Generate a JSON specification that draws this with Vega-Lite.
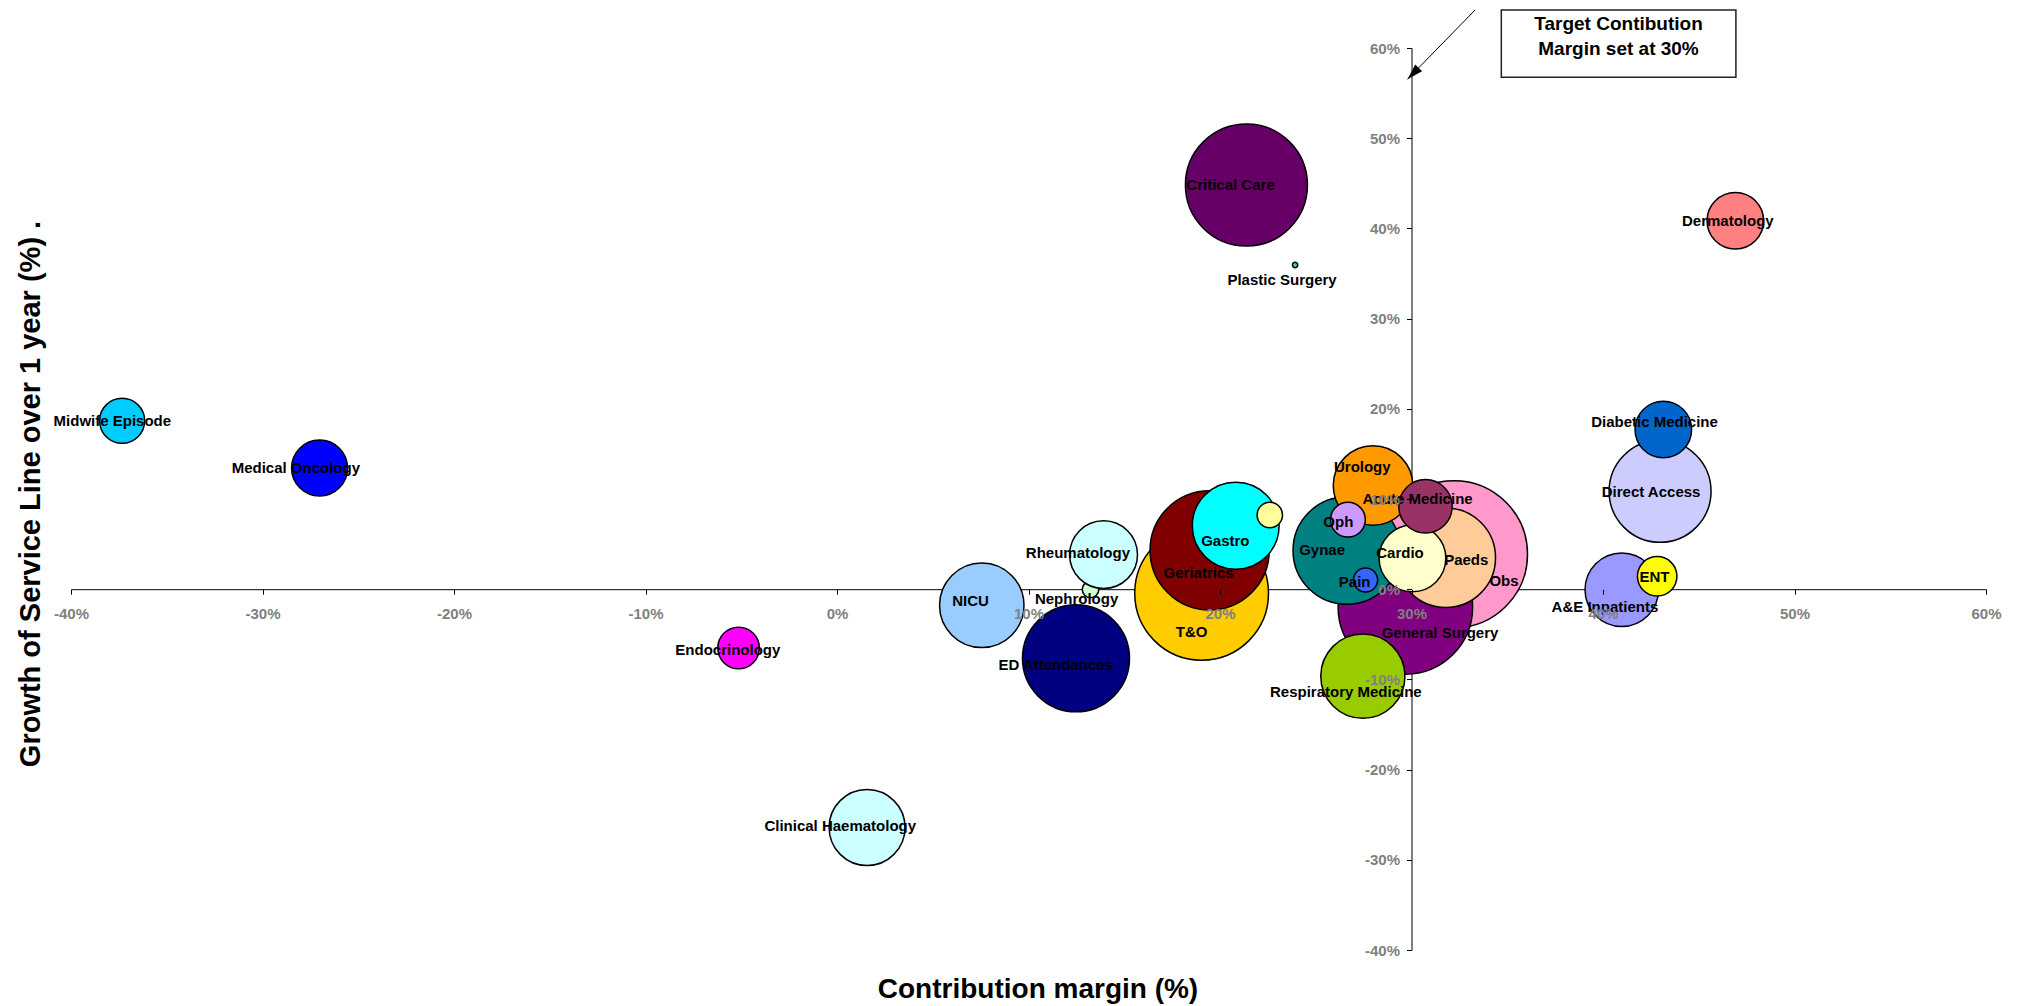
{
  "$schema": "https://vega.github.io/schema/vega-lite/v6.json",
  "width": 1915,
  "height": 902,
  "autosize": {"type": "none"},
  "padding": {"left": 71, "top": 48, "right": 40, "bottom": 56},
  "background": "white",
  "config": {"view": {"stroke": null}, "font": "Liberation Sans"},
  "datasets": {
    "services": [
      {"service": "Obs", "label": "Obs", "margin": 32.22, "growth": 3.88, "activity": 1000, "lx": 34.83, "ly": 0.91},
      {"service": "General Surgery", "label": "General Surgery", "margin": 29.68, "growth": -1.97, "activity": 837, "lx": 31.49, "ly": -4.82},
      {"service": "T&O", "label": "T&O", "margin": 19.04, "growth": -0.46, "activity": 828, "lx": 18.52, "ly": -4.78},
      {"service": "Critical Care", "label": "Critical Care", "margin": 21.38, "growth": 44.81, "activity": 689, "lx": 20.55, "ly": 44.81},
      {"service": "Geriatrics", "label": "Geriatrics", "margin": 19.46, "growth": 4.31, "activity": 658, "lx": 18.88, "ly": 1.76},
      {"service": "Gynae", "label": "Gynae", "margin": 26.62, "growth": 4.29, "activity": 535, "lx": 25.33, "ly": 4.35},
      {"service": "ED Attendances", "label": "ED Attendances", "margin": 12.48, "growth": -7.66, "activity": 530, "lx": 11.42, "ly": -8.4},
      {"service": "Direct Access", "label": "Direct Access", "margin": 42.98, "growth": 10.85, "activity": 481, "lx": 42.51, "ly": 10.74},
      {"service": "Paeds", "label": "Paeds", "margin": 31.79, "growth": 3.49, "activity": 458, "lx": 32.86, "ly": 3.24},
      {"service": "Gastro", "label": "Gastro", "margin": 20.82, "growth": 7.03, "activity": 349, "lx": 20.28, "ly": 5.38},
      {"service": "NICU", "label": "NICU", "margin": 7.56, "growth": -1.79, "activity": 330, "lx": 6.97, "ly": -1.31},
      {"service": "Respiratory Medicine", "label": "Respiratory Medicine", "margin": 27.46, "growth": -9.64, "activity": 328, "lx": 26.57, "ly": -11.36},
      {"service": "Urology", "label": "Urology", "margin": 27.99, "growth": 11.5, "activity": 292, "lx": 27.43, "ly": 13.51},
      {"service": "Clinical Haematology", "label": "Clinical Haematology", "margin": 1.57, "growth": -26.42, "activity": 267, "lx": 0.17, "ly": -26.25},
      {"service": "A&E Inpatients", "label": "A&E Inpatients", "margin": 40.98, "growth": -0.06, "activity": 250, "lx": 40.1, "ly": -1.94},
      {"service": "Nephrology", "label": "Nephrology", "margin": 13.24, "growth": -0.03, "activity": 12.6, "lx": 12.51, "ly": -1.09},
      {"service": "Rheumatology", "label": "Rheumatology", "margin": 13.92, "growth": 3.83, "activity": 213, "lx": 12.58, "ly": 3.98},
      {"service": "Cardio", "label": "Cardio", "margin": 30.05, "growth": 3.42, "activity": 206, "lx": 29.4, "ly": 4.05},
      {"service": "Diabetic Medicine", "label": "Diabetic Medicine", "margin": 43.15, "growth": 17.71, "activity": 148, "lx": 42.69, "ly": 18.5},
      {"service": "Dermatology", "label": "Dermatology", "margin": 46.91, "growth": 40.84, "activity": 148, "lx": 46.52, "ly": 40.86},
      {"service": "Medical Oncology", "label": "Medical Oncology", "margin": -27.02, "growth": 13.44, "activity": 145, "lx": -28.26, "ly": 13.44},
      {"service": "Acute Medicine", "label": "Acute Medicine", "margin": 30.73, "growth": 9.19, "activity": 132, "lx": 30.32, "ly": 10.03},
      {"service": "Midwife Episode", "label": "Midwife Episode", "margin": -37.33, "growth": 18.67, "activity": 94, "lx": -37.84, "ly": 18.68},
      {"service": "Endocrinology", "label": "Endocrinology", "margin": -5.14, "growth": -6.52, "activity": 80, "lx": -5.7, "ly": -6.74},
      {"service": "ENT", "label": "ENT", "margin": 42.83, "growth": 1.43, "activity": 72, "lx": 42.69, "ly": 1.39},
      {"service": "Oph", "label": "Oph", "margin": 26.68, "growth": 7.71, "activity": 56, "lx": 26.18, "ly": 7.48},
      {"service": "Unlabelled", "label": "", "margin": 22.6, "growth": 8.23, "activity": 30, "lx": 22.6, "ly": 8.23},
      {"service": "Pain", "label": "Pain", "margin": 27.6, "growth": 1.02, "activity": 27, "lx": 27.03, "ly": 0.76},
      {"service": "Plastic Surgery", "label": "Plastic Surgery", "margin": 23.92, "growth": 35.94, "activity": 1.3, "lx": 23.24, "ly": 34.28}
    ],
    "box": [{"x1": 34.69, "x2": 46.94, "y1": 64.21, "y2": 56.75}],
    "boxText": [
      {"t": "Target Contibution", "x": 40.81, "y": 62.66},
      {"t": "Margin set at 30%", "x": 40.81, "y": 59.89}
    ],
    "arrow": [{"x1": 33.32, "y1": 64.21, "x2": 29.79, "y2": 56.53}]
  },
  "layer": [
    {
      "data": {"name": "services"},
      "mark": {"type": "point", "filled": true, "opacity": 1, "stroke": "black", "strokeWidth": 1.5, "shape": "circle"},
      "encoding": {
        "x": {
          "field": "margin", "type": "quantitative",
          "scale": {"domain": [-40, 60], "nice": false, "zero": false},
          "axis": {"orient": "bottom", "offset": -360.8, "domain": true, "domainColor": "black", "domainWidth": 1, "ticks": false, "labels": false, "grid": false, "title": null, "zindex": 0}
        },
        "y": {
          "field": "growth", "type": "quantitative",
          "scale": {"domain": [-40, 60], "nice": false, "zero": false},
          "axis": {"orient": "left", "offset": -1340.5, "domain": true, "domainColor": "black", "domainWidth": 1, "ticks": false, "labels": false, "grid": false, "title": null, "zindex": 0}
        },
        "size": {"field": "activity", "type": "quantitative", "scale": {"type": "linear", "domain": [0, 1000], "range": [0, 21609]}, "legend": null},
        "fill": {
          "field": "service", "type": "nominal", "legend": null,
          "scale": {
            "domain": ["Obs", "General Surgery", "T&O", "Critical Care", "Geriatrics", "Gynae", "ED Attendances", "Direct Access", "Paeds", "Gastro", "NICU", "Respiratory Medicine", "Urology", "Clinical Haematology", "A&E Inpatients", "Nephrology", "Rheumatology", "Cardio", "Diabetic Medicine", "Dermatology", "Medical Oncology", "Acute Medicine", "Midwife Episode", "Endocrinology", "ENT", "Oph", "Unlabelled", "Pain", "Plastic Surgery"],
            "range": ["#FF99CC", "#800080", "#FFCC00", "#660066", "#800000", "#008080", "#000080", "#CCCCFF", "#FFCC99", "#00FFFF", "#99CCFF", "#99CC00", "#FF9900", "#CCFFFF", "#9999FF", "#CCFFCC", "#CCFFFF", "#FFFFCC", "#0066CC", "#FF8080", "#0000FF", "#993366", "#00CCFF", "#FF00FF", "#FFFF00", "#CC99FF", "#FFFF99", "#3366FF", "#33CCCC"]
          }
        }
      }
    },
    {
      "data": {"name": "services"},
      "mark": {"type": "text", "font": "Liberation Sans", "fontSize": 15, "fontWeight": "bold", "color": "black", "align": "center", "baseline": "middle"},
      "encoding": {
        "x": {
          "field": "lx", "type": "quantitative",
          "axis": {
            "orient": "bottom", "offset": -360.8, "domain": false, "grid": false, "zindex": 1,
            "values": [-40, -30, -20, -10, 0, 10, 20, 30, 40, 50, 60],
            "labelExpr": "datum.value + '%'",
            "labelFont": "Liberation Sans", "labelFontSize": 15, "labelFontWeight": "bold", "labelColor": "#808080",
            "labelPadding": 12, "labelFlush": false, "labelOverlap": false, "labelBound": false,
            "ticks": true, "tickSize": 5, "tickColor": "black", "tickWidth": 1,
            "title": "Contribution margin (%)", "titleFont": "Liberation Sans", "titleFontSize": 28, "titleFontWeight": "bold", "titleColor": "black",
            "titleX": 966.5, "titleY": 407.8, "titleAlign": "center", "titleBaseline": "alphabetic", "titleAngle": 0
          }
        },
        "y": {
          "field": "ly", "type": "quantitative",
          "axis": {
            "orient": "left", "offset": -1340.5, "domain": false, "grid": false, "zindex": 1,
            "values": [-40, -30, -20, -10, 0, 10, 20, 30, 40, 50, 60],
            "labelExpr": "datum.value + '%'",
            "labelFont": "Liberation Sans", "labelFontSize": 15, "labelFontWeight": "bold", "labelColor": "#808080",
            "labelPadding": 7, "labelFlush": false, "labelOverlap": false, "labelBound": false, "labelBaseline": "middle",
            "ticks": true, "tickSize": 5, "tickColor": "black", "tickWidth": 1,
            "title": "Growth of Service Line over 1 year (%)  .", "titleFont": "Liberation Sans", "titleFontSize": 29, "titleFontWeight": "bold", "titleColor": "black",
            "titleX": -1381.5, "titleY": 445.5, "titleAlign": "center", "titleBaseline": "middle", "titleAngle": 270
          }
        },
        "text": {"field": "label"}
      }
    },
    {
      "data": {"name": "box"},
      "mark": {"type": "rect", "fill": "white", "stroke": "#222222", "strokeWidth": 1.5},
      "encoding": {
        "x": {"field": "x1", "type": "quantitative", "axis": null},
        "x2": {"field": "x2"},
        "y": {"field": "y1", "type": "quantitative", "axis": null},
        "y2": {"field": "y2"}
      }
    },
    {
      "data": {"name": "boxText"},
      "mark": {"type": "text", "font": "Liberation Sans", "fontSize": 19, "fontWeight": "bold", "color": "black", "align": "center", "baseline": "middle"},
      "encoding": {
        "x": {"field": "x", "type": "quantitative", "axis": null},
        "y": {"field": "y", "type": "quantitative", "axis": null},
        "text": {"field": "t"}
      }
    },
    {
      "data": {"name": "arrow"},
      "mark": {"type": "rule", "color": "black", "strokeWidth": 1},
      "encoding": {
        "x": {"field": "x1", "type": "quantitative", "axis": null},
        "y": {"field": "y1", "type": "quantitative", "axis": null},
        "x2": {"field": "x2"},
        "y2": {"field": "y2"}
      }
    },
    {
      "data": {"name": "arrow"},
      "mark": {"type": "point", "shape": "M0,0L0.6,2L-0.6,2Z", "filled": true, "color": "black", "opacity": 1, "size": 256, "angle": 224.3},
      "encoding": {
        "x": {"field": "x2", "type": "quantitative", "axis": null},
        "y": {"field": "y2", "type": "quantitative", "axis": null}
      }
    }
  ],
  "resolve": {"axis": {"x": "independent", "y": "independent"}}
}
